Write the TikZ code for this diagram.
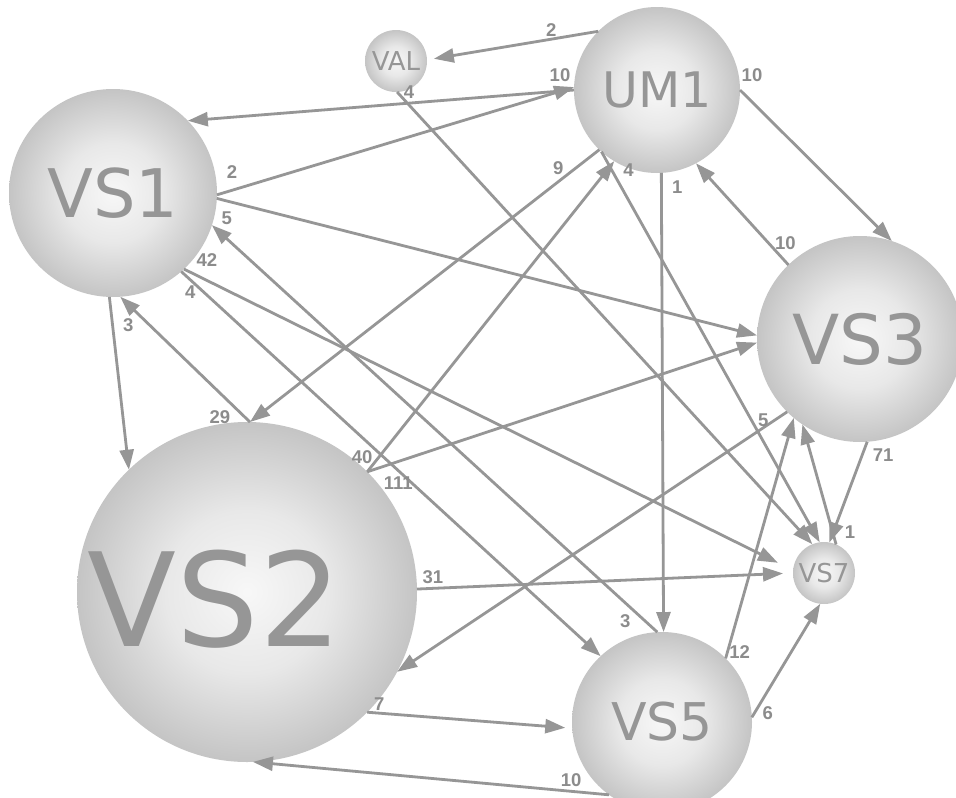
\documentclass[tikz,border=0pt]{standalone}
\usepackage{fontspec}
\setmainfont{DejaVu Sans}
\newfontfamily\numfont{Liberation Sans}
\usetikzlibrary{arrows.meta}

\definecolor{edgegray}{RGB}{150,150,150}
\definecolor{textgray}{RGB}{150,150,150}
\definecolor{numgray}{RGB}{140,140,140}
\pgfdeclareradialshading{bubble}{\pgfpoint{0bp}{0bp}}{color(0bp)=(black!3); color(12bp)=(black!9); color(25bp)=(black!23); color(50bp)=(black!23)}

\begin{document}
\begin{tikzpicture}[
  x=1pt,y=-1pt,
  sphere/.style={circle,shade,shading=bubble,inner sep=0pt,outer sep=0pt,text=textgray},
  arrow/.style={-{Triangle[length=20pt,width=14pt]},line width=2.8pt,draw=edgegray},
  lbl/.style={font=\numfont\bfseries\fontsize{18.5}{18.5}\selectfont,text=numgray,inner sep=0pt}
]
\fill[white] (0,0) rectangle (956,798);
\useasboundingbox (0,0) rectangle (956,798);

\node[sphere,minimum size=62pt,font=\fontsize{26}{26}\selectfont] (VAL) at (396,61) {VAL};
\node[sphere,minimum size=166pt,font=\fontsize{49}{49}\selectfont] (UM1) at (657,90) {UM1};
\node[sphere,minimum size=208pt,font=\fontsize{67}{67}\selectfont] (VS1) at (113,193) {VS1};
\node[sphere,minimum size=206pt,font=\fontsize{69}{69}\selectfont] (VS3) at (860,339) {VS3};
\node[sphere,minimum size=340pt,font=\fontsize{130}{130}\selectfont,text height=110pt] (VS2) at (247,592) {\hspace*{-64pt}VS2};
\node[sphere,minimum size=180pt,font=\fontsize{52}{52}\selectfont] (VS5) at (662,722) {VS5};
\node[sphere,minimum size=62pt,font=\fontsize{26}{26}\selectfont] (VS7) at (824,573) {VS7};

\draw[arrow,shorten >=7pt] (UM1.135) -- node[lbl,at start,xshift=-47pt,yshift=1pt]{2} (VAL.2);
\draw[arrow] (UM1.180) -- node[lbl,at start,xshift=-14pt,yshift=15pt]{10} (VS1.44);
\draw[arrow] (VS1.-1) -- node[lbl,at start,xshift=15pt,yshift=23pt]{2} (UM1.178);
\draw[arrow] (VAL.-88) -- node[lbl,at start,xshift=12pt]{4} (VS7.112);
\draw[arrow] (UM1.0) -- node[lbl,at start,xshift=12pt,yshift=15pt]{10} (VS3.72);
\draw[arrow] (VS3.134) -- node[lbl,at start,xshift=-3pt,yshift=22pt]{10} (UM1.-62);
\draw[arrow] (UM1.-134) -- node[lbl,at start,xshift=-41pt,yshift=-18pt]{9} (VS2.89);
\draw[arrow] (VS2.45) -- node[lbl,at start,xshift=-5pt,yshift=15pt]{40} (UM1.-121);
\draw[arrow] (UM1.-132) -- node[lbl,at start,xshift=27pt,yshift=-18pt]{4} (VS7.98);
\draw[arrow] (UM1.-87) -- node[lbl,at start,xshift=16pt,yshift=-14pt]{1} (VS5.89);
\draw[arrow] (VS1.-3) -- node[lbl,at start,xshift=10pt,yshift=-20pt]{5} (VS3.178);
\draw[arrow] (VS5.93) -- node[lbl,at start,xshift=-32pt,yshift=11pt]{3} (VS1.-18);
\draw[arrow,shorten >=17pt] (VS1.-47) -- node[lbl,at start,xshift=23pt,yshift=9pt]{42} (VS7.175);
\draw[arrow] (VS1.-49) -- node[lbl,at start,xshift=9pt,yshift=-21pt]{4} (VS5.133);
\draw[arrow] (VS1.-92) -- node[lbl,at start,xshift=19pt,yshift=-28pt]{3} (VS2.134);
\draw[arrow] (VS2.89) -- node[lbl,at start,xshift=-30pt,yshift=5pt]{29} (VS1.-86);
\draw[arrow] (VS2.45) -- node[lbl,at start,xshift=31pt,yshift=-11pt]{111} (VS3.182);
\draw[arrow,shorten >=10pt] (VS2.1) -- node[lbl,at start,xshift=16pt,yshift=12pt]{31} (VS7.180);
\draw[arrow,shorten >=7pt] (VS2.-45) -- node[lbl,at start,xshift=12pt,yshift=8pt]{7} (VS5.-176);
\draw[arrow] (VS5.-126) -- node[lbl,at start,xshift=-38pt,yshift=15pt]{10} (VS2.-88);
\draw[arrow] (VS3.-135) -- node[lbl,at start,xshift=-24pt,yshift=-8pt]{5} (VS2.-28);
\draw[arrow] (VS5.45) -- node[lbl,at start,xshift=14pt,yshift=6pt]{12} (VS3.-130);
\draw[arrow] (VS5.3) -- node[lbl,at start,xshift=16pt,yshift=4pt]{6} (VS7.-97);
\draw[arrow] (VS3.-86) -- node[lbl,at start,xshift=16pt,yshift=-13pt]{71} (VS7.80);
\draw[arrow] (VS7.67) -- node[lbl,at start,xshift=14pt,yshift=12pt]{1} (VS3.-124);
\end{tikzpicture}
\end{document}
